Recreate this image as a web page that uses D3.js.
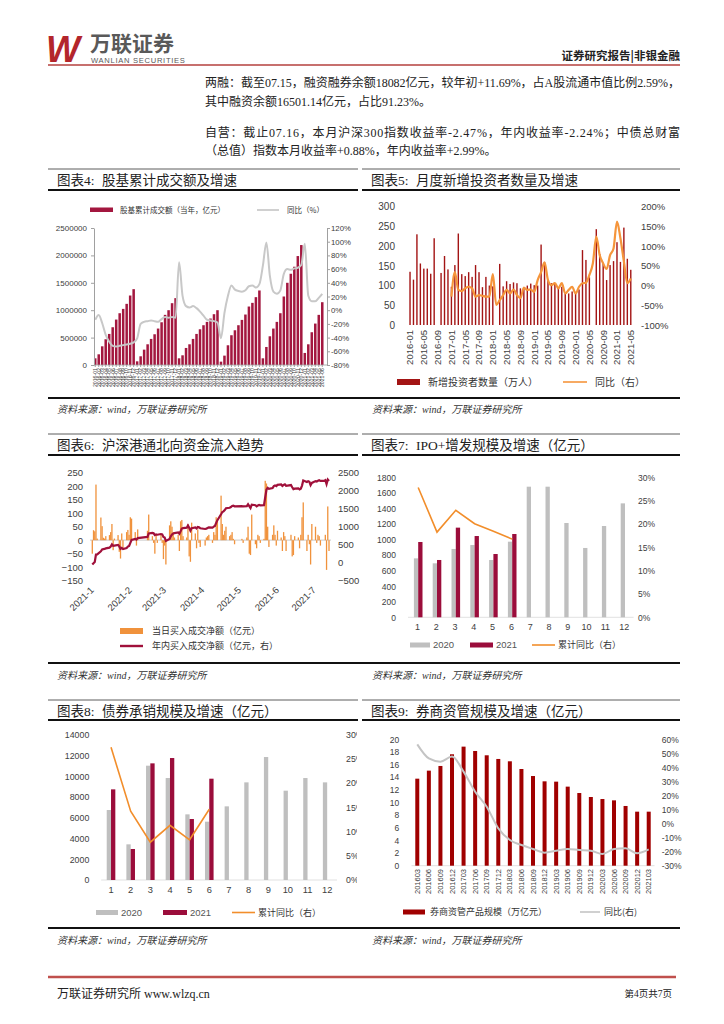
<!DOCTYPE html>
<html><head><meta charset="utf-8">
<script src="https://cdn.jsdelivr.net/npm/d3@7"></script>
<style>
body{margin:0;background:#fff;}
</style></head><body>
<svg id="page" width="724" height="1024"></svg>
<script>
// ---------------- DATA ----------------
// Chart 4: 股基累计成交额（当年，亿元） & 同比
const years4 = [2016,2017,2018,2019,2020,2021];
const turnover4 = [
 122000,195000,341000,470000,567000,689000,829000,945000,1024000,1116000,1268000,1384000,
 67000,159000,280000,378000,476000,561000,665000,780000,915000,1000000,1128000,1220000,
 122000,177000,311000,378000,476000,567000,652000,726000,787000,848000,927000,1000000,
 61000,171000,360000,543000,634000,726000,823000,921000,1067000,1134000,1238000,1360000,
 122000,329000,524000,665000,787000,945000,1250000,1500000,1665000,1793000,1988000,2189000,
 220000,378000,598000,756000,915000,1146000];
const yoy4 = [
 -14,-7,-19,-36,-46,-52,-53,-52,-51,-50,-49,-47,
 -41,-20,-17,-16,-15,-16,-17,-13,-10,-11,-10,-11,
 70,21,6,4,6,3,-2,-8,-14,-15,-16,-18,
 -41,-4,21,36,30,28,27,29,35,36,33,38,
 65,99,50,27,24,29,53,60,59,61,62,66,
 97,21,13,13,18,24];
const ticks4L = [0,500000,1000000,1500000,2000000,2500000];
const ticks4R = [-80,-60,-40,-20,0,20,40,60,80,100,120];

// Chart 5: 新增投资者数量（万人） & 同比
const newInvestors5 = [
 135,115,230,156,143,143,130,220,null,132,175,141,
 97,152,232,129,124,134,122,152,134,96,122,100,
 98,null,155,98,111,104,108,106,93,93,100,105,
 101,100,204,160,114,106,106,95,97,80,80,85,
 80,90,190,165,121,null,243,180,155,114,152,162,
 210,160,247,168,140];
const yoy5 = [
 null,null,null,null,null,null,null,null,null,null,null,null,
 -28,34,-11,-14,-7,-3,-7,-28,-24,-26,-28,-28,
 29,-49,-37,-24,-11,-20,-10,-24,-32,-5,-11,-10,
 -16,14,34,59,14,1,6,-7,6,-20,-11,-3,
 -20,-3,6,7,27,56,124,77,56,42,77,94,
 162,120,61,6,18];
const ticks5L = [0,50,100,150,200,250,300];
const ticks5R = [-100,-50,0,50,100,150,200];

// Chart 6: 北向资金 daily net buy (亿元), by month of 2021 trading days
const nbJan = [-50,37,33,206,6,84,52,9,6,15,19,30,60,-37,6,19,-43,-68,25,-30];
const nbFeb = [30,38,20,85,80,30,-20,40,35,95,15,-10,-50,20,-10];
const nbMar = [20,-10,-70,-20,-90,55,70,50,30,10,20,-40,70,75,15,10,60,-60,-80,65,25,-30,40];
const nbApr = [-10,-25,-20,10,15,20,-10,30,20,85,75,165,60,20,35,50,15,20,30,5,-15];
const nbMay = [5,-10,10,50,-50,-55,95,-15,-30,20,15,-10,5,220,210,50,-25,20];
const nbJun = [55,20,-20,35,10,-40,30,15,-40,20,-60,-55,15,10,-30,20,85,140,-40,20,-15];
const nbJul = [-90,60,50,-10,20,15,-20,0,20,-110,125,-40];
const nbHolidays = ["2021-01-01","2021-02-11","2021-02-12","2021-02-15","2021-02-16","2021-02-17","2021-04-05","2021-05-03","2021-05-04","2021-05-05","2021-06-14"];
const ticks6L = [-150,-100,-50,0,50,100,150,200,250];
const ticks6R = [-500,0,500,1000,1500,2000,2500];
const monthLabels6 = ["2021-1","2021-2","2021-3","2021-4","2021-5","2021-6","2021-7"];

// Chart 7: IPO+增发
const months12 = [1,2,3,4,5,6,7,8,9,10,11,12];
const ipo2020 = [760,696,881,932,739,975,1684,1684,1216,894,1177,1469];
const ipo2021 = [971,739,1156,1048,816,1074];
const ipoYoy = [27.9,18.3,23.0,20.1,18.5,16.8];
const ticks7L = [0,200,400,600,800,1000,1200,1400,1600,1800];
const ticksPct30 = [0,5,10,15,20,25,30];

// Chart 8: 债券承销
const bond2020 = [6743,3436,11014,9826,6326,5620,7096,9408,11849,8606,9826,9408];
const bond2021 = [8734,2986,11239,11752,5876,9761];
const bondYoy = [27.4,14.2,7.8,11.3,8.3,14.6];
const ticks8L = [0,2000,4000,6000,8000,10000,12000,14000];

// Chart 9: 券商资管
const amCats = ["201603","201606","201609","201612","201703","201706","201709","201712","201803","201806","201809","201812","201903","201906","201909","201912","202003","202006","202009","202012","202103"];
const amScale = [13.77,15.04,15.78,17.63,18.84,18.15,17.47,16.89,16.52,15.30,14.19,13.35,13.30,12.51,11.50,10.87,10.55,10.34,9.45,8.55,8.55];
const amYoy = [56.4,46.4,44.1,47.7,37.0,22.7,12.0,-3.4,-11.7,-15.3,-18.1,-20.7,-19.3,-18.1,-18.8,-19.3,-21.7,-18.1,-17.6,-21.2,-18.4];
const ticks9L = [0,2,4,6,8,10,12,14,16,18,20];
const ticks9R = [-30,-20,-10,0,10,20,30,40,50,60];

// ---------------- DRAW ----------------
const SERIF = '"Liberation Serif","Noto Sans CJK SC",serif';
const SANS = '"Liberation Sans","Noto Sans CJK SC",sans-serif';
const CJK = '"Noto Sans CJK SC",sans-serif';
const plain = d3.format("d");
const svg = d3.select("#page");

function txt(x,y,s,o={}){
  const t = svg.append("text").attr("x",x).attr("y",y).text(s)
    .attr("font-family",o.ff||SERIF).attr("font-size",o.fs||12).attr("fill",o.fill||"#222")
    .attr("dy",o.dy||"0.35em");
  if(o.anchor) t.attr("text-anchor",o.anchor);
  if(o.fw) t.attr("font-weight",o.fw);
  if(o.fst) t.attr("font-style",o.fst);
  if(o.tl) t.attr("textLength",o.tl).attr("lengthAdjust","spacing");
  if(o.ls) t.attr("letter-spacing",o.ls);
  return t;
}
function hline(x1,x2,y,w,c){ svg.append("line").attr("x1",x1).attr("x2",x2).attr("y1",y).attr("y2",y).attr("stroke",c||"#000").attr("stroke-width",w); }
function styleAxis(g,fs,keepDomain){
  g.attr("font-size",fs).attr("font-family",SANS);
  if(!keepDomain) g.select(".domain").remove(); else g.select(".domain").attr("stroke","#a0a0a0");
  g.selectAll("text").attr("fill","#404040");
  g.selectAll(".tick line").attr("stroke","#a0a0a0");
}

// Header
txt(46,49,"W",{ff:SANS,fs:36,fw:"bold",fst:"italic",fill:"#b3262c"});
txt(90,44,"万联证券",{ff:CJK,fs:21,fw:"bold",fill:"#595959"});
txt(91,60,"WANLIAN SECURITIES",{ff:SANS,fs:7.6,fill:"#595959",ls:0.7});
txt(680,56,"证券研究报告|非银金融",{ff:CJK,fs:11.5,fw:"bold",anchor:"end",fill:"#222"});
hline(48,680,65,1.5,"#b5413e");

// Paragraph
txt(205,83,"两融：截至07.15，融资融券余额18082亿元，较年初+11.69%，占A股流通市值比例2.59%，",{fs:12,tl:475});
txt(205,102,"其中融资余额16501.14亿元，占比91.23%。",{fs:12});
txt(205,133,"自营：截止07.16，本月沪深300指数收益率-2.47%，年内收益率-2.24%；中债总财富",{fs:12,tl:475});
txt(205,151,"（总值）指数本月收益率+0.88%，年内收益率+2.99%。",{fs:12});

// Panel frames
const rows = [{top:169,title:180,thick:190,bottom:398,src:409},
              {top:434,title:445,thick:455,bottom:663,src:675},
              {top:700,title:711,thick:720,bottom:928,src:940}];
const titles = [["图表4:","股基累计成交额及增速"],["图表5:","月度新增投资者数量及增速"],
                ["图表6:","沪深港通北向资金流入趋势"],["图表7:","IPO+增发规模及增速（亿元）"],
                ["图表8:","债券承销规模及增速（亿元）"],["图表9:","券商资管规模及增速（亿元）"]];
rows.forEach((r,ri)=>{
  hline(48,358,r.top,0.8,"#333"); hline(362,680,r.top,0.8,"#333");
  hline(48,358,r.thick,2,"#111"); hline(362,680,r.thick,2,"#111");
  hline(48,680,r.bottom,2,"#111");
  txt(57,r.title,titles[ri*2][0],{fs:13.5});
  txt(102,r.title,titles[ri*2][1],{fs:13.5});
  txt(371,r.title,titles[ri*2+1][0],{fs:13.5});
  txt(416,r.title,titles[ri*2+1][1],{fs:13.5});
  txt(57,r.src,"资料来源：wind，万联证券研究所",{fs:10,fst:"italic",fill:"#333"});
  txt(372,r.src,"资料来源：wind，万联证券研究所",{fs:10,fst:"italic",fill:"#333"});
});

// Footer
hline(48,676,977,2.5,"#c0504d");
txt(57,994,"万联证券研究所 www.wlzq.cn",{fs:12});
txt(672,994,"第4页共7页",{fs:9.5,anchor:"end"});

// ---------- Chart 4 ----------
(function(){
  const months4=[];
  years4.forEach(y=>{for(let m=1;m<=12;m++){ if(y===2021&&m>6)break; months4.push(y+"-"+String(m).padStart(2,"0"));}});
  const x = d3.scaleBand().domain(months4).range([93,324.5]).padding(0.28);
  const y = d3.scaleLinear().domain([0,2500000]).range([365,228]);
  const yR = d3.scaleLinear().domain([-80,120]).range([365,228]);
  const g = svg.append("g");
  g.selectAll("rect").data(turnover4).join("rect")
    .attr("x",(d,i)=>x(months4[i])).attr("width",x.bandwidth())
    .attr("y",d=>y(d)).attr("height",d=>y(0)-y(d)).attr("fill","#a3173f");
  g.append("path").datum(yoy4).attr("fill","none").attr("stroke","#c8c8c8").attr("stroke-width",2)
    .attr("d",d3.line().x((d,i)=>x(months4[i])+x.bandwidth()/2).y(d=>yR(d)).curve(d3.curveMonotoneX));
  const aL = svg.append("g").attr("transform","translate(94,0)")
    .call(d3.axisLeft(y).tickValues(ticks4L).tickSizeInner(3).tickSizeOuter(0).tickPadding(4).tickFormat(plain));
  styleAxis(aL,8,true);
  const aR = svg.append("g").attr("transform","translate(327,0)")
    .call(d3.axisRight(yR).tickValues(ticks4R).tickSizeInner(3).tickSizeOuter(0).tickPadding(1).tickFormat(d=>d+"%"));
  styleAxis(aR,7.8,true);
  hline(94,327,365,0.8,"#a0a0a0");
  const aB = svg.append("g").attr("transform","translate(0,365)")
    .call(d3.axisBottom(x).tickSizeInner(2).tickSizeOuter(0));
  styleAxis(aB,5.2,false);
  aB.selectAll("text").attr("transform","rotate(-90)").attr("x",-3).attr("y",0).attr("dy","0.35em").attr("text-anchor","end");
  // legend
  svg.append("rect").attr("x",90).attr("y",207.5).attr("width",23).attr("height",4.5).attr("fill","#a3173f");
  txt(120,210,"股基累计成交额（当年，亿元）",{ff:CJK,fs:7.5,fill:"#333"});
  hline(257,279,210,1.5,"#c0c0c0");
  txt(287,210,"同比（%）",{ff:CJK,fs:7.5,fill:"#333"});
})();

// ---------- Chart 5 ----------
(function(){
  const months5=[];
  years4.forEach(y=>{for(let m=1;m<=12;m++){ if(y===2021&&m>5)break; months5.push(y+"-"+String(m).padStart(2,"0"));}});
  const x = d3.scaleBand().domain(months5).range([408.3,632.5]).padding(0);
  const y = d3.scaleLinear().domain([0,300]).range([325,206.7]);
  const yR = d3.scaleLinear().domain([-100,200]).range([325,206.7]);
  const g = svg.append("g");
  const data = newInvestors5.map((v,i)=>({v,i})).filter(d=>d.v!==null);
  g.selectAll("rect").data(data).join("rect")
    .attr("x",d=>x(months5[d.i])+x.bandwidth()/2-0.7).attr("width",1.4)
    .attr("y",d=>y(d.v)).attr("height",d=>y(0)-y(d.v)).attr("fill","#a31414");
  g.append("path").datum(yoy5.map((v,i)=>({v,i}))).attr("fill","none").attr("stroke","#f5953b").attr("stroke-width",2.2)
    .attr("d",d3.line().defined(d=>d.v!==null).x(d=>x(months5[d.i])+x.bandwidth()/2).y(d=>yR(d.v)).curve(d3.curveMonotoneX));
  const aL = svg.append("g").attr("transform","translate(395,0)")
    .call(d3.axisLeft(y).tickValues(ticks5L).tickSize(0).tickPadding(0).tickFormat(plain));
  styleAxis(aL,10);
  const aR = svg.append("g").attr("transform","translate(641,0)")
    .call(d3.axisRight(yR).tickValues(ticks5R).tickSize(0).tickPadding(0).tickFormat(d=>d+"%"));
  styleAxis(aR,9.5);
  const aB = svg.append("g").attr("transform","translate(0,327)")
    .call(d3.axisBottom(x).tickValues(months5.filter((d,i)=>i%4===0)).tickSize(0));
  styleAxis(aB,9.5);
  aB.selectAll("text").attr("transform","rotate(-90)").attr("x",-3).attr("y",0).attr("dy","0.35em").attr("text-anchor","end");
  svg.append("rect").attr("x",397).attr("y",379).attr("width",23).attr("height",6).attr("fill","#a31414");
  txt(428,382,"新增投资者数量（万人）",{ff:CJK,fs:10,fill:"#333"});
  hline(563,587,382,1.6,"#f5953b");
  txt(595,382,"同比（右）",{ff:CJK,fs:10,fill:"#333"});
})();

// ---------- Chart 6 ----------
(function(){
  const daily = [...nbJan,...nbFeb,...nbMar,...nbApr,...nbMay,...nbJun,...nbJul];
  const fmt = d3.timeFormat("%Y-%m-%d");
  const days=[]; const d=new Date(2021,0,1); const end=new Date(2021,6,16);
  while(d<=end){ const w=d.getDay(); if(w!==0&&w!==6&&!nbHolidays.includes(fmt(d))) days.push(new Date(d)); d.setDate(d.getDate()+1); }
  const n = Math.min(days.length,daily.length);
  const cum = d3.cumsum(daily.slice(0,n));
  const x = d3.scaleTime().domain([new Date(2021,0,4),new Date(2021,6,16)]).range([92.3,329]);
  const y = d3.scaleLinear().domain([-150,250]).range([580.7,472.7]);
  const yR = d3.scaleLinear().domain([-500,2500]).range([580.7,472.7]);
  hline(90,331,y(0),1.2,"#d5d5d5");
  const g = svg.append("g");
  g.selectAll("rect").data(d3.range(n)).join("rect")
    .attr("x",i=>x(days[i])-0.65).attr("width",1.3)
    .attr("y",i=>y(Math.max(0,daily[i]))).attr("height",i=>Math.abs(y(daily[i])-y(0)))
    .attr("fill","#f0923c");
  g.append("path").datum(d3.range(n)).attr("fill","none").attr("stroke","#a0103a").attr("stroke-width",2.2)
    .attr("d",d3.line().x(i=>x(days[i])).y(i=>yR(cum[i])));
  const aL = svg.append("g").attr("transform","translate(83,0)")
    .call(d3.axisLeft(y).tickValues(ticks6L).tickSize(0).tickPadding(0).tickFormat(plain));
  styleAxis(aL,9.5);
  const aR = svg.append("g").attr("transform","translate(338,0)")
    .call(d3.axisRight(yR).tickValues(ticks6R).tickSize(0).tickPadding(0).tickFormat(plain));
  styleAxis(aR,9.5);
  const monthStarts = d3.range(7).map(m=>new Date(2021,m,1));
  const aB = svg.append("g").attr("transform","translate(0,588)")
    .call(d3.axisBottom(x).tickValues(monthStarts).tickSize(0).tickFormat((t,i)=>monthLabels6[i]));
  styleAxis(aB,9.5);
  aB.selectAll("text").attr("transform","rotate(-45)").attr("x",0).attr("y",0).attr("dy","0.6em").attr("dx","0.2em").attr("text-anchor","end");
  svg.append("rect").attr("x",120).attr("y",628).attr("width",23).attr("height",6).attr("fill","#f0923c");
  txt(152,631,"当日买入成交净额（亿元）",{ff:CJK,fs:9,fill:"#333"});
  hline(120,143,646,2.4,"#a0103a");
  txt(152,646,"年内买入成交净额（亿元，右）",{ff:CJK,fs:9,fill:"#333"});
})();

// ---------- Chart 7 & 8 (grouped bars + yoy line) ----------
function groupedChart(o){
  const x = d3.scaleBand().domain(months12).range(o.xr).padding(0);
  const y = d3.scaleLinear().domain([0,o.ymax]).range([o.y0,o.y1]);
  const yR = d3.scaleLinear().domain([0,30]).range([o.y0,o.y1]);
  const c = m=>x(m)+x.bandwidth()/2+o.off;
  hline(o.xr[0],o.xr[1],o.y0,0.8,"#d9d9d9");
  const g = svg.append("g");
  g.selectAll("rect.a").data(o.a).join("rect").attr("class","a")
    .attr("x",(d,i)=>c(months12[i])-o.bw).attr("width",o.bw)
    .attr("y",d=>y(d)).attr("height",d=>y(0)-y(d)).attr("fill","#bfbfbf");
  g.selectAll("rect.b").data(o.b).join("rect").attr("class","b")
    .attr("x",(d,i)=>c(months12[i])).attr("width",o.bw)
    .attr("y",d=>y(d)).attr("height",d=>y(0)-y(d)).attr("fill","#9b0d3b");
  g.append("path").datum(o.yoy).attr("fill","none").attr("stroke","#f28e2b").attr("stroke-width",1.6)
    .attr("d",d3.line().x((d,i)=>c(months12[i])).y(d=>yR(d)));
  const aL = svg.append("g").attr("transform",`translate(${o.lx},0)`)
    .call(d3.axisLeft(y).tickValues(o.ticksL).tickSize(0).tickPadding(0).tickFormat(plain));
  styleAxis(aL,o.fs);
  const gR = svg.append("g");
  if(o.clip){ svg.append("clipPath").attr("id",o.clip).append("rect").attr("x",0).attr("y",0).attr("width",357).attr("height",1024); gR.attr("clip-path",`url(#${o.clip})`); }
  const aR = gR.append("g").attr("transform",`translate(${o.rx},0)`)
    .call(d3.axisRight(yR).tickValues(ticksPct30).tickSize(0).tickPadding(0).tickFormat(d=>d+"%"));
  styleAxis(aR,o.fs);
  const aB = svg.append("g").attr("transform",`translate(0,${o.y0})`)
    .call(d3.axisBottom(x).tickSize(0).tickPadding(o.bp));
  styleAxis(aB,o.fs+0.5);
  const L=o.leg;
  svg.append("rect").attr("x",L[0]).attr("y",L[4]-2.5).attr("width",L[1]-L[0]).attr("height",5).attr("fill","#bfbfbf");
  txt(L[1]+3,L[4],"2020",{ff:SANS,fs:9.5,fill:"#555"});
  svg.append("rect").attr("x",L[2]).attr("y",L[4]-2.5).attr("width",L[3]-L[2]).attr("height",5).attr("fill","#9b0d3b");
  txt(L[3]+3,L[4],"2021",{ff:SANS,fs:9.5,fill:"#555"});
  hline(L[5],L[6],L[4],1.6,"#f28e2b");
  txt(L[6]+3,L[4],"累计同比（右）",{ff:CJK,fs:9,fill:"#333"});
}
groupedChart({xr:[408,633.6],ymax:1800,y0:617.3,y1:477.7,a:ipo2020,b:ipo2021,yoy:ipoYoy,
  ticksL:ticks7L,lx:396,rx:638,fs:8.5,bw:4.3,off:0.8,bp:6,leg:[410,430,470,493,645,532,555]});
groupedChart({xr:[101.2,337],ymax:14000,y0:880,y1:734.7,a:bond2020,b:bond2021,yoy:bondYoy,
  ticksL:ticks8L,lx:89.3,rx:346,fs:8.8,bw:4.3,off:0,bp:6,clip:"clip8",leg:[96,118,163,187,912.5,232,255]});

// ---------- Chart 9 ----------
(function(){
  const x = d3.scaleBand().domain(amCats).range([411.5,654.5]).padding(0);
  const y = d3.scaleLinear().domain([0,20]).range([865.7,739.3]);
  const yR = d3.scaleLinear().domain([-30,60]).range([865.7,739.3]);
  const c = k=>x(k)+x.bandwidth()/2;
  hline(411.5,654.5,865.7,0.8,"#d9d9d9");
  const g = svg.append("g");
  g.selectAll("rect").data(amScale).join("rect")
    .attr("x",(d,i)=>c(amCats[i])-2).attr("width",4)
    .attr("y",d=>y(d)).attr("height",d=>y(0)-y(d)).attr("fill","#a00000");
  g.append("path").datum(amYoy).attr("fill","none").attr("stroke","#c4c4c4").attr("stroke-width",2)
    .attr("d",d3.line().x((d,i)=>c(amCats[i])).y(d=>yR(d)).curve(d3.curveMonotoneX));
  const aL = svg.append("g").attr("transform","translate(399.3,0)")
    .call(d3.axisLeft(y).tickValues(ticks9L).tickSize(0).tickPadding(0).tickFormat(plain));
  styleAxis(aL,8.5);
  const aR = svg.append("g").attr("transform","translate(661.7,0)")
    .call(d3.axisRight(yR).tickValues(ticks9R).tickSize(0).tickPadding(0).tickFormat(d=>d+"%"));
  styleAxis(aR,8.5);
  const aB = svg.append("g").attr("transform","translate(0,868)")
    .call(d3.axisBottom(x).tickSize(0));
  styleAxis(aB,7.5);
  aB.selectAll("text").attr("transform","rotate(-90)").attr("x",-1).attr("y",0).attr("dy","0.35em").attr("text-anchor","end");
  svg.append("rect").attr("x",403).attr("y",909.5).attr("width",22).attr("height",5).attr("fill","#a00000");
  txt(430,912,"券商资管产品规模（万亿元）",{ff:CJK,fs:9,fill:"#333"});
  hline(580,600,912,1.6,"#c4c4c4");
  txt(604,912,"同比(右)",{ff:CJK,fs:9,fill:"#333"});
})();
</script>
</body></html>
